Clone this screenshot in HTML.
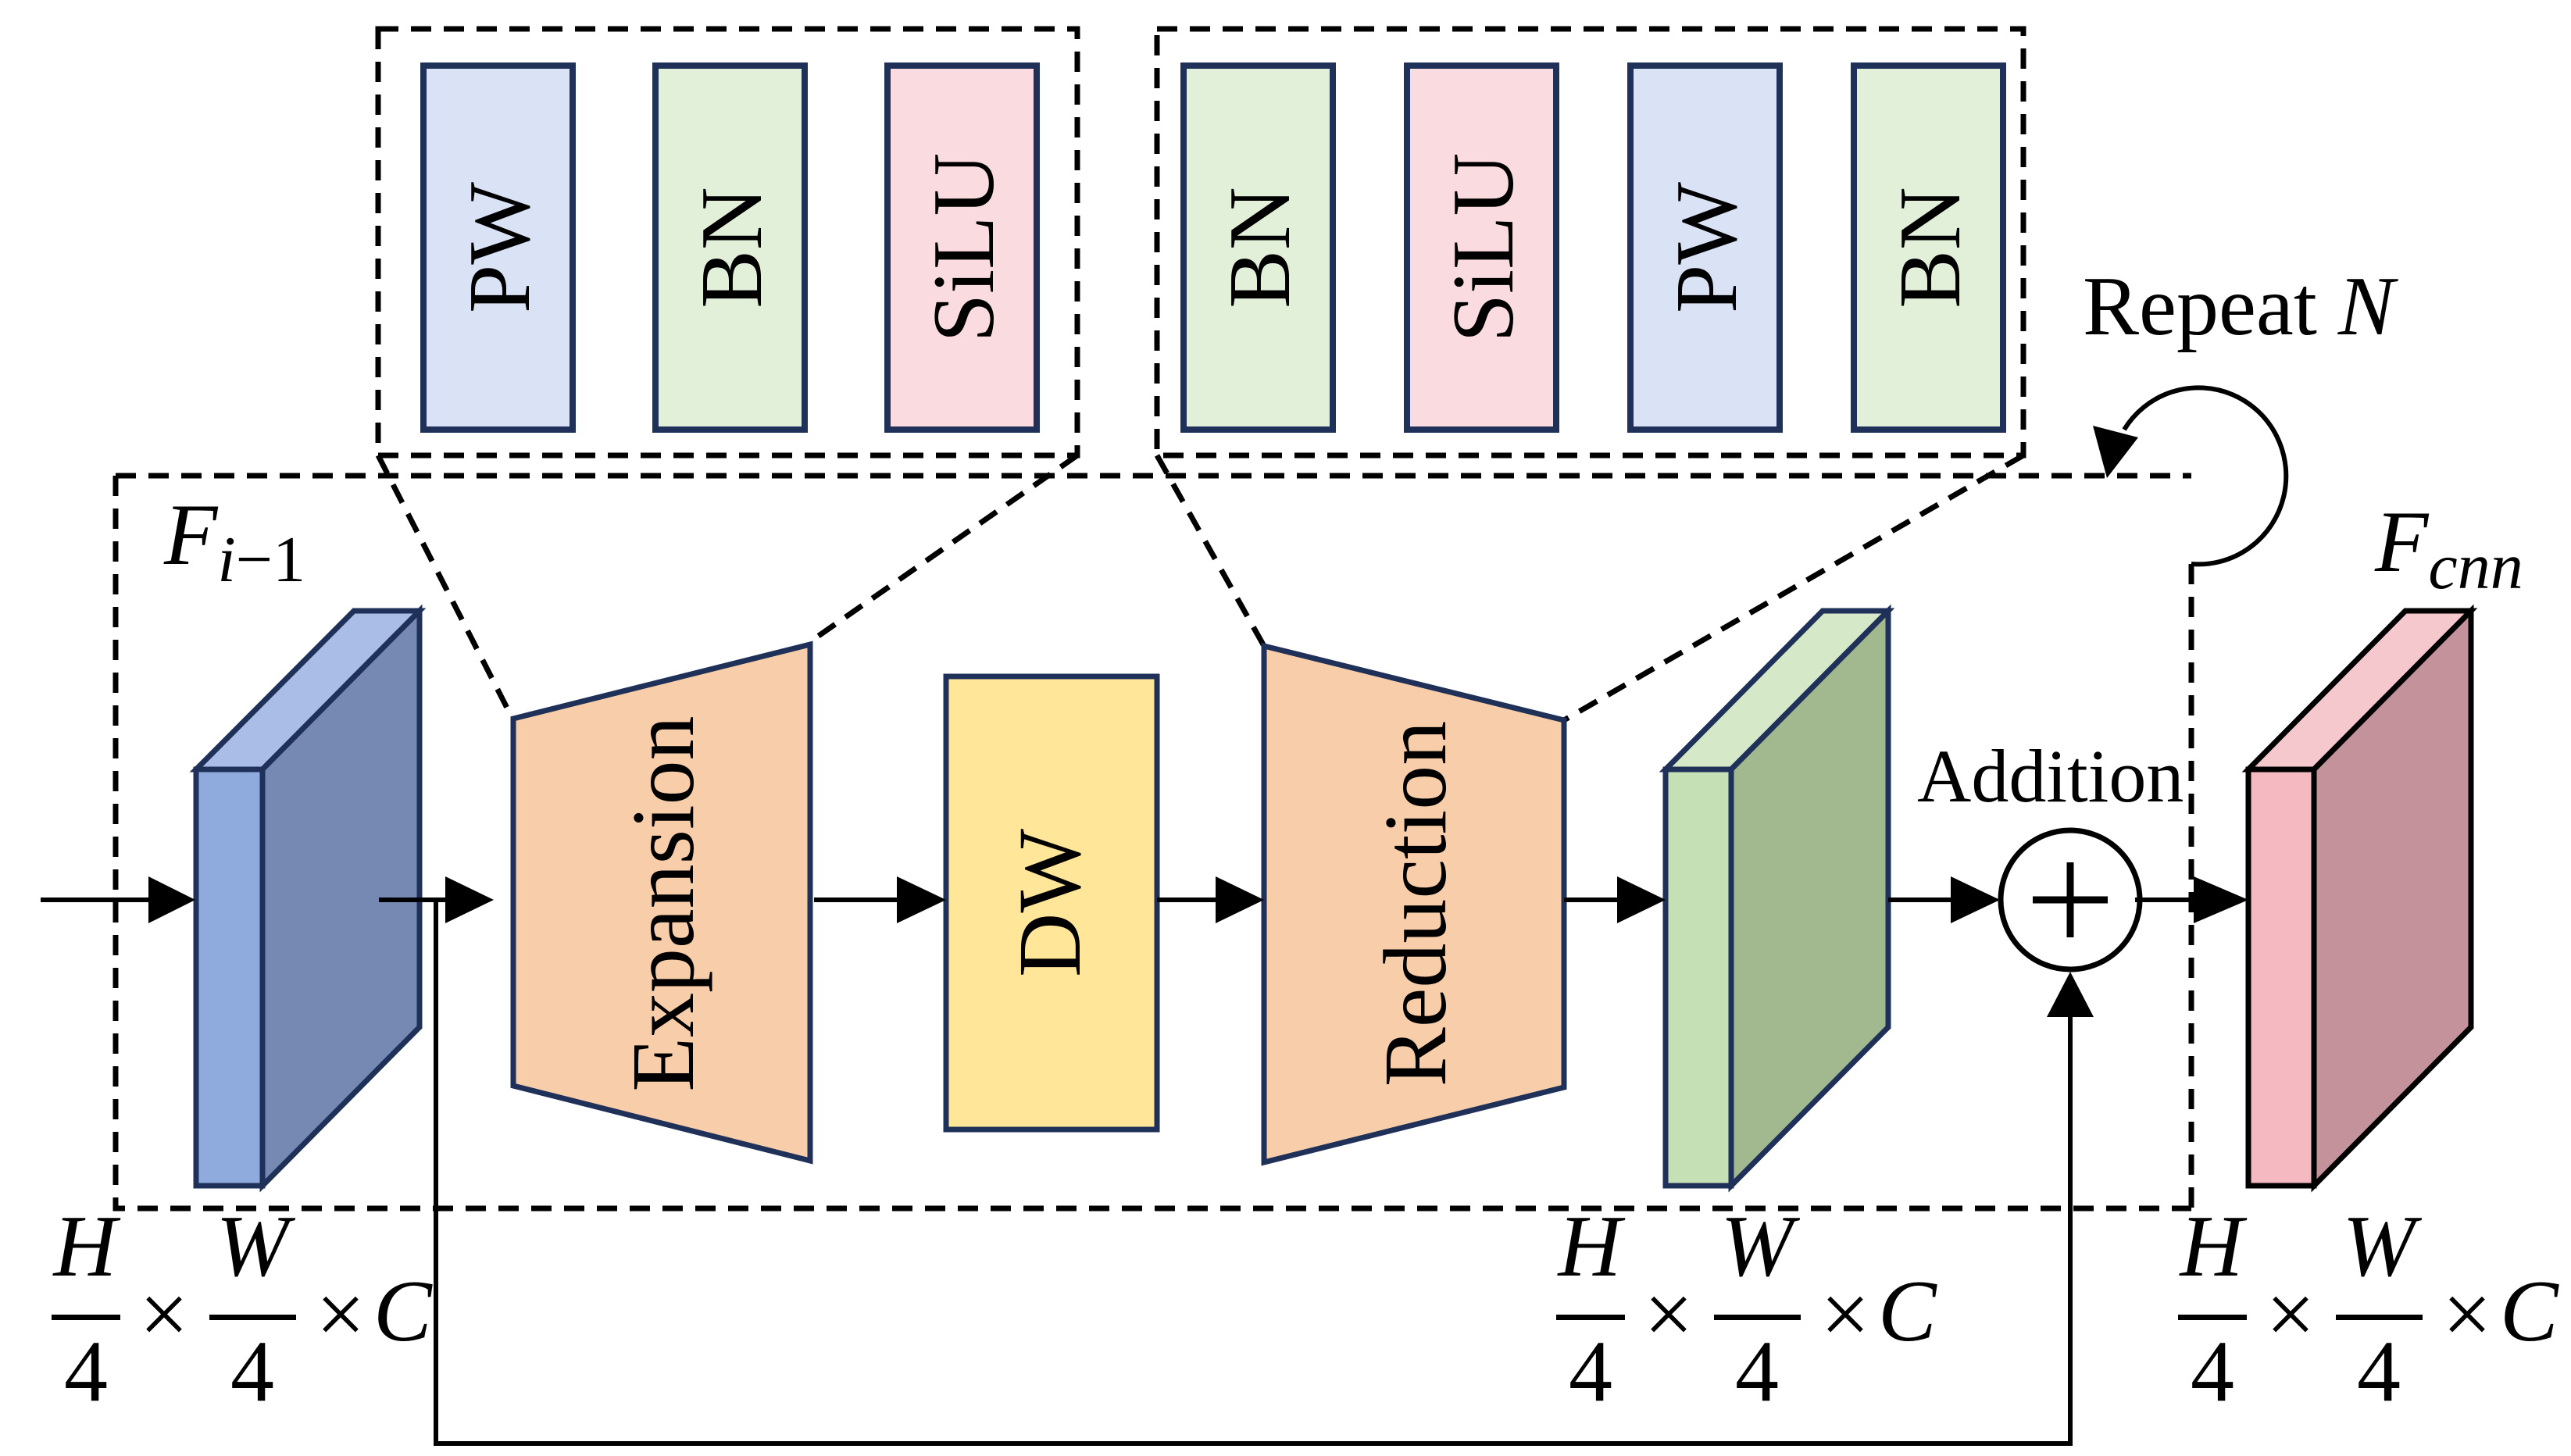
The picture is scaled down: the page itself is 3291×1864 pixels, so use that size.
<!DOCTYPE html>
<html><head><meta charset="utf-8"><style>html,body{margin:0;padding:0;background:#fff}svg{display:block}</style></head>
<body>
<svg width="3291" height="1864" viewBox="0 0 3291 1864" xmlns="http://www.w3.org/2000/svg" font-family="Liberation Serif, serif">
<g fill="none" stroke="#000" stroke-width="7" stroke-dasharray="26,16">
<rect x="484" y="37" width="895" height="546"/>
<rect x="1481" y="37" width="1109" height="546"/>
<line x1="484" y1="583" x2="655" y2="918"/>
<line x1="1379" y1="583" x2="1035" y2="823"/>
<line x1="1481" y1="583" x2="1618" y2="827"/>
<line x1="2590" y1="583" x2="2002" y2="922"/>
<path d="M148 609 H2805 M148 609 V1547 H2805 M2805 722 V1547"/>
</g>
<g stroke="#1f3158" stroke-width="8">
<rect x="542" y="84" width="191" height="466" fill="#dae3f5"/>
<rect x="839" y="84" width="191" height="466" fill="#e2f0d9"/>
<rect x="1136" y="84" width="191" height="466" fill="#fadce0"/>
<rect x="1515" y="84" width="191" height="466" fill="#e2f0d9"/>
<rect x="1801" y="84" width="191" height="466" fill="#fadce0"/>
<rect x="2087" y="84" width="191" height="466" fill="#dae3f5"/>
<rect x="2373" y="84" width="191" height="466" fill="#e2f0d9"/>
</g>
<g font-size="112" text-anchor="middle" fill="#000">
<text transform="translate(677,317) rotate(-90)">PW</text>
<text transform="translate(974,317) rotate(-90)">BN</text>
<text transform="translate(1271,317) rotate(-90)">SiLU</text>
<text transform="translate(1650,317) rotate(-90)">BN</text>
<text transform="translate(1936,317) rotate(-90)">SiLU</text>
<text transform="translate(2222,317) rotate(-90)">PW</text>
<text transform="translate(2508,317) rotate(-90)">BN</text>
</g>
<g stroke="#1f3158" stroke-width="7" stroke-linejoin="miter">
<polygon points="251,985 453,782 537,782 336,985" fill="#a9bde6"/>
<polygon points="336,985 537,782 537,1315 336,1518" fill="#7689b2"/>
<rect x="251" y="985" width="85" height="533" fill="#8faadc"/>
<polygon points="2132,985 2333,782 2417,782 2216,985" fill="#d5e8c8"/>
<polygon points="2216,985 2417,782 2417,1315 2216,1518" fill="#a2b88f"/>
<rect x="2132" y="985" width="84" height="533" fill="#c5e0b4"/>
</g>
<g stroke="#000" stroke-width="7">
<polygon points="2878,985 3079,782 3163,782 2962,985" fill="#f5c8ce"/>
<polygon points="2962,985 3163,782 3163,1315 2962,1518" fill="#c4929a"/>
<rect x="2878" y="985" width="84" height="533" fill="#f4b9c1"/>
</g>
<g stroke="#1f3158" stroke-width="7">
<polygon points="657,920 1037,825 1037,1486 657,1390" fill="#f8cdaa"/>
<rect x="1211" y="866" width="270" height="580" fill="#ffe699"/>
<polygon points="1618,827 2002,922 2002,1392 1618,1488" fill="#f8cdaa"/>
</g>
<g font-size="114" text-anchor="middle" fill="#000">
<text transform="translate(887,1157) rotate(-90)">Expansion</text>
<text transform="translate(1382,1156) rotate(-90)">DW</text>
<text transform="translate(1850,1157) rotate(-90)">Reduction</text>
</g>
<g stroke="#000" stroke-width="6" fill="none">
<line x1="52" y1="1152" x2="195" y2="1152"/>
<line x1="485" y1="1152" x2="575" y2="1152"/>
<line x1="1042" y1="1152" x2="1150" y2="1152"/>
<line x1="1481" y1="1152" x2="1560" y2="1152"/>
<line x1="2002" y1="1152" x2="2075" y2="1152"/>
<line x1="2417" y1="1152" x2="2500" y2="1152"/>
<line x1="2733" y1="1152" x2="2815" y2="1152"/>
<polyline points="558,1152 558,1848 2650,1848 2650,1300"/>
<path d="M2805 722 A112 113 0 1 0 2719 550"/>
</g>
<g stroke="#000" fill="none">
<circle cx="2650" cy="1152" r="89" stroke-width="7"/>
<line x1="2650" y1="1104" x2="2650" y2="1200" stroke-width="9"/>
<line x1="2602" y1="1152" x2="2698" y2="1152" stroke-width="9"/>
</g>
<g fill="#000">
<polygon points="190,1122 250,1152 190,1182"/>
<polygon points="570,1122 632,1152 570,1182"/>
<polygon points="1148,1122 1211,1152 1148,1182"/>
<polygon points="1556,1122 1618,1152 1556,1182"/>
<polygon points="2070,1122 2132,1152 2070,1182"/>
<polygon points="2497,1122 2560,1152 2497,1182"/>
<polygon points="2808,1122 2878,1152 2808,1182"/>
<polygon points="2620,1302 2650,1244 2680,1302"/>
<polygon points="2679,545 2697,612 2737,560"/>
</g>
<g fill="#000">
<text x="2666" y="428" font-size="108">Repeat <tspan font-style="italic">N</tspan></text>
<text x="2454" y="1026" font-size="96">Addition</text>
<text x="210" y="722" font-size="112" font-style="italic">F<tspan font-size="84" dy="22">i</tspan><tspan font-size="84" font-style="normal">−1</tspan></text>
<text x="3040" y="731" font-size="112" font-style="italic">F<tspan font-size="84" dy="22">cnn</tspan></text>
</g>
<g fill="#000" font-size="112">
<g>
<text x="109" y="1633" text-anchor="middle" font-style="italic">H</text>
<rect x="66" y="1683" width="88" height="7"/>
<text x="110" y="1793" text-anchor="middle">4</text>
<text x="210" y="1720" text-anchor="middle">×</text>
<text x="323" y="1633" text-anchor="middle" font-style="italic">W</text>
<rect x="268" y="1683" width="111" height="7"/>
<text x="323" y="1793" text-anchor="middle">4</text>
<text x="436" y="1720" text-anchor="middle">×</text>
<text x="478" y="1716" font-style="italic">C</text>
</g>
<g transform="translate(1926,0)">
<text x="109" y="1633" text-anchor="middle" font-style="italic">H</text>
<rect x="66" y="1683" width="88" height="7"/>
<text x="110" y="1793" text-anchor="middle">4</text>
<text x="210" y="1720" text-anchor="middle">×</text>
<text x="323" y="1633" text-anchor="middle" font-style="italic">W</text>
<rect x="268" y="1683" width="111" height="7"/>
<text x="323" y="1793" text-anchor="middle">4</text>
<text x="436" y="1720" text-anchor="middle">×</text>
<text x="478" y="1716" font-style="italic">C</text>
</g>
<g transform="translate(2722,0)">
<text x="109" y="1633" text-anchor="middle" font-style="italic">H</text>
<rect x="66" y="1683" width="88" height="7"/>
<text x="110" y="1793" text-anchor="middle">4</text>
<text x="210" y="1720" text-anchor="middle">×</text>
<text x="323" y="1633" text-anchor="middle" font-style="italic">W</text>
<rect x="268" y="1683" width="111" height="7"/>
<text x="323" y="1793" text-anchor="middle">4</text>
<text x="436" y="1720" text-anchor="middle">×</text>
<text x="478" y="1716" font-style="italic">C</text>
</g>
</g>
</svg>
</body></html>
